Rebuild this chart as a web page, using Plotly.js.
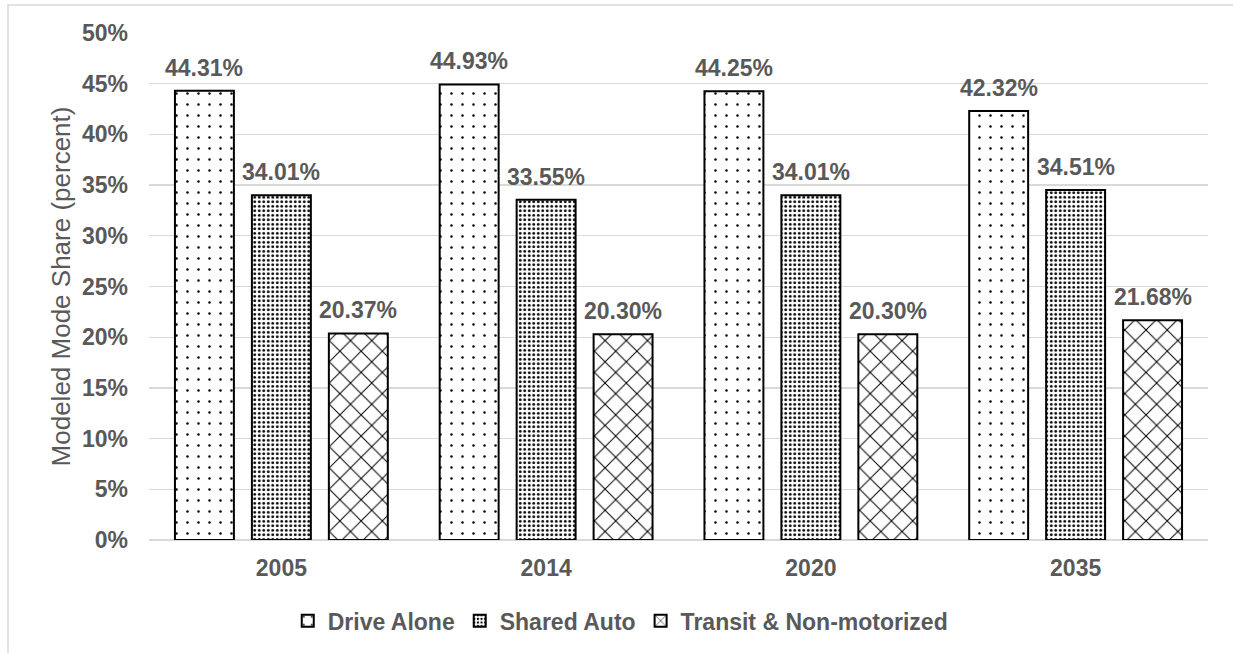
<!DOCTYPE html>
<html>
<head>
<meta charset="utf-8">
<script src="https://cdn.plot.ly/plotly-3.0.1.min.js"></script>
<style>
  html, body { margin: 0; padding: 0; background: #fff; }
  #chart { width: 1233px; height: 653px; }
</style>
</head>
<body>
<div id="chart"></div>
<script>
// Modeled mode share by analysis year
const years = ['2005', '2014', '2020', '2035'];
const driveAlone = [44.31, 44.93, 44.25, 42.32];
const sharedAuto = [34.01, 33.55, 34.01, 34.51];
const transitNonMotorized = [20.37, 20.30, 20.30, 21.68];
const seriesNames = ['Drive Alone', 'Shared Auto', 'Transit & Non-motorized'];
const yTicks = [0, 5, 10, 15, 20, 25, 30, 35, 40, 45, 50];

const GRAY = '#595959';
const GRID = '#d9d9d9';
const FONT = '"Liberation Sans", Arial, sans-serif';

const W = 1233, H = 653;
const margin = { l: 149, r: 25, t: 33, b: 112 };
const bargap = 0.128;
const bargroupgap = 0.234;

const patterns = [
  { shape: '.', size: 11, solidity: 0.04 },
  { shape: '.', size: 4.5, solidity: 0.32 },
  { shape: 'x', size: 15, solidity: 0.13 }
];

const seriesValues = [driveAlone, sharedAuto, transitNonMotorized];

const traces = seriesValues.map((vals, i) => ({
  type: 'bar',
  name: seriesNames[i],
  x: years,
  y: vals,
  marker: {
    color: '#ffffff',
    line: { color: '#000000', width: 2 },
    pattern: {
      shape: patterns[i].shape,
      size: patterns[i].size,
      solidity: patterns[i].solidity,
      fgcolor: '#000000',
      bgcolor: '#ffffff',
      fillmode: 'replace'
    }
  },
  hoverinfo: 'skip'
}));

// value labels above each bar, offset to the bar's slot inside its group
const plotW = W - margin.l - margin.r;
const catW = plotW / years.length;
const slotW = catW * (1 - bargap) / seriesValues.length;
const annotations = [];
seriesValues.forEach((vals, i) => {
  vals.forEach((v, j) => {
    annotations.push({
      x: j,               // category index on the x axis
      y: v,
      xref: 'x',
      yref: 'y',
      xshift: (i - (seriesValues.length - 1) / 2) * slotW,
      yshift: 8,
      yanchor: 'bottom',
      showarrow: false,
      text: v.toFixed(2) + '%',
      font: { family: FONT, size: 23, color: GRAY, weight: 'bold' }
    });
  });
});

const layout = {
  width: W,
  height: H,
  margin: margin,
  paper_bgcolor: '#ffffff',
  plot_bgcolor: '#ffffff',
  barmode: 'group',
  bargap: bargap,
  bargroupgap: bargroupgap,
  font: { family: FONT, color: GRAY },
  xaxis: {
    type: 'category',
    range: [-0.5, years.length - 0.5],
    autorange: false,
    showgrid: false,
    zeroline: false,
    showline: false,
    ticks: '',
    tickfont: { family: FONT, size: 23, color: GRAY, weight: 'bold' },
    ticklabelstandoff: 12
  },
  yaxis: {
    range: [0, 50],
    autorange: false,
    tickvals: yTicks,
    ticktext: yTicks.map(t => t + '%'),
    showgrid: true,
    gridcolor: GRID,
    gridwidth: 1.3,
    zeroline: true,
    zerolinecolor: GRID,
    zerolinewidth: 2,
    showline: false,
    ticks: '',
    ticklabelstandoff: 20,
    tickfont: { family: FONT, size: 23, color: GRAY, weight: 'bold' },
    title: {
      text: 'Modeled Mode Share (percent)',
      font: { family: FONT, size: 26, color: GRAY },
      standoff: 3
    }
  },
  legend: {
    orientation: 'h',
    x: 0.445,
    xanchor: 'center',
    y: -0.157,
    yanchor: 'middle',
    font: { family: FONT, size: 23, color: GRAY, weight: 'bold' },
    itemwidth: 30,
    traceorder: 'normal'
  },
  shapes: [{
    type: 'rect',
    xref: 'paper',
    yref: 'paper',
    x0: (8 - margin.l) / plotW,
    x1: 1.2,
    y0: -0.5,
    y1: 1 + (margin.t - 5) / (H - margin.t - margin.b),
    line: { color: GRID, width: 1.5 },
    layer: 'below'
  }],
  annotations: annotations
};

Plotly.newPlot('chart', traces, layout, { displayModeBar: false, staticPlot: true });
</script>
</body>
</html>
